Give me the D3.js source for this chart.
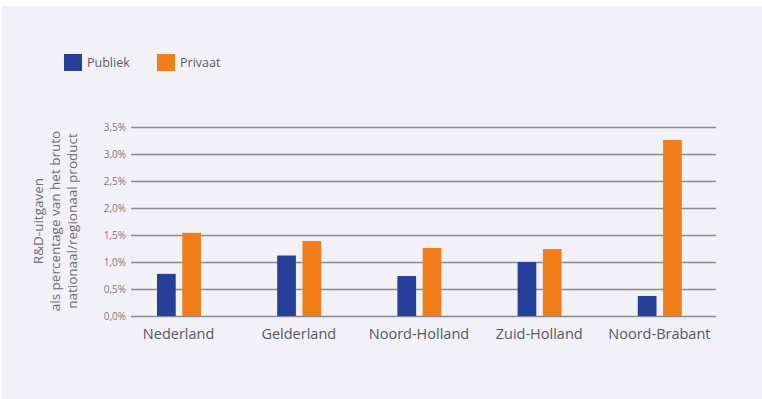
<!DOCTYPE html>
<html>
<head>
<meta charset="utf-8">
<script src="https://cdn.jsdelivr.net/npm/d3@7"></script>
<style>
  body { margin: 0; background: #fff; }
  text { font-family: "Open Sans", sans-serif; }
</style>
</head>
<body>
<script>
const width = 762;
const height = 399;

// data
const regions = ["Nederland", "Gelderland", "Noord-Holland", "Zuid-Holland", "Noord-Brabant"];
const series = ["Publiek", "Privaat"];
const publiek = [0.78, 1.12, 0.74, 1.0, 0.37];
const privaat = [1.54, 1.39, 1.26, 1.24, 3.26];
const yTicks = [0, 0.5, 1.0, 1.5, 2.0, 2.5, 3.0, 3.5];
const colors = ["#263f9a", "#f07e1a"];

const svg = d3
  .select("body")
  .append("svg")
  .attr("width", width)
  .attr("height", height);

svg
  .append("rect")
  .attr("x", 2)
  .attr("y", 6)
  .attr("width", width - 2)
  .attr("height", height - 6)
  .attr("fill", "#f2f1f7");

const y = d3.scaleLinear().domain([0, 3.5]).range([316, 127]);
const x = d3.scaleBand().domain(regions).range([119, 720]);
const x1 = d3.scaleBand().domain(series).range([38, 82]).paddingInner(0.26);

// grid + y labels
const yAxis = d3
  .axisLeft(y)
  .tickValues(yTicks)
  .tickSize(-(716 - 131))
  .tickPadding(5)
  .tickFormat((d) => d.toFixed(1).replace(".", ",") + "%");

const gy = svg.append("g").attr("transform", "translate(131,0)").call(yAxis);
gy.select(".domain").remove();
gy.selectAll(".tick line").attr("stroke", "#8a8a90").attr("stroke-width", 1.3);
gy.selectAll(".tick text")
  .attr("fill", "#7a7a80")
  .style("font-size", "10px");

// bars
const rows = regions.map((r, i) => ({ region: r, values: [publiek[i], privaat[i]] }));

svg
  .append("g")
  .selectAll("g")
  .data(rows)
  .join("g")
  .attr("transform", (d) => `translate(${x(d.region)},0)`)
  .selectAll("rect")
  .data((d) => d.values.map((v, j) => ({ key: series[j], value: v, j })))
  .join("rect")
  .attr("x", (d) => x1(d.key))
  .attr("y", (d) => y(d.value))
  .attr("width", x1.bandwidth())
  .attr("height", (d) => y(0) - y(d.value))
  .attr("fill", (d) => colors[d.j]);

// category labels
svg
  .append("g")
  .selectAll("text")
  .data(regions)
  .join("text")
  .attr("x", (d) => x(d) + x.bandwidth() / 2 - 0.5)
  .attr("y", 339)
  .attr("text-anchor", "middle")
  .attr("fill", "#58585e")
  .style("font-size", "14.5px")
  .text((d) => d);

// y title
const title = svg
  .append("text")
  .attr("transform", "translate(43,221) rotate(-90)")
  .attr("text-anchor", "middle")
  .attr("fill", "#6e6e74")
  .style("font-size", "13.5px");
["R&D-uitgaven", "als percentage van het bruto", "nationaal/regionaal product"].forEach((t, i) => {
  title
    .append("tspan")
    .attr("x", 0)
    .attr("dy", i === 0 ? 0 : 17)
    .text(t);
});

// legend
const legend = svg
  .append("g")
  .selectAll("g")
  .data(series)
  .join("g")
  .attr("transform", (d, i) => `translate(${64 + i * 93},54)`);

legend
  .append("rect")
  .attr("width", 18)
  .attr("height", 17)
  .attr("fill", (d, i) => colors[i]);

legend
  .append("text")
  .attr("x", 23)
  .attr("y", 13)
  .attr("fill", "#5e5e66")
  .style("font-size", "12.5px")
  .text((d) => d);
</script>
</body>
</html>
